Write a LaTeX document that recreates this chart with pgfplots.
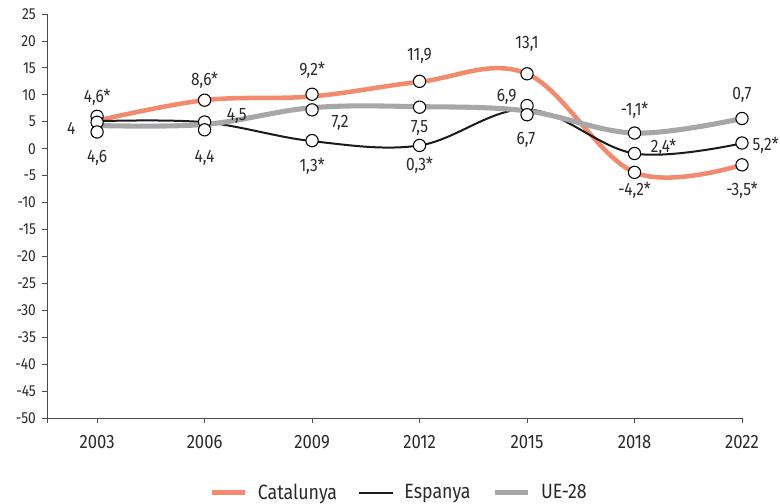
\documentclass[border=0pt]{standalone}
\usepackage{fontspec}
\setmainfont[FakeStretch=0.86]{Fira Sans}
\usepackage{pgfplots}
\pgfplotsset{compat=1.18}
\definecolor{cat}{HTML}{F28A6E}
\definecolor{esp}{HTML}{1A1A1A}
\definecolor{ue}{HTML}{A7A7A9}
\definecolor{txt}{HTML}{2A2A2A}
\begin{document}
\begin{tikzpicture}[x=0.75pt,y=0.75pt]
\begin{axis}[
  at={(0,0)}, anchor=south west,
  scale only axis, width=521.25pt, height=303pt,
  xmin=-0.466, xmax=6, ymin=-50, ymax=25,
  xtick={0,1,2,3,4,5,6},
  xticklabels={2003,2006,2009,2012,2015,2018,2022},
  extra x ticks={-0.466}, extra x tick labels={},
  ytick={-50,-45,...,25},
  axis x line*=bottom, axis y line*=left,
  axis line style={draw=black!70, line width=0.6pt},
  tick style={draw=black!70, line width=0.6pt},
  tick align=outside, major tick length=3.8pt,
  x axis line style={-}, y axis line style={-},
  /pgf/number format/assume math mode=true,
  yticklabel style={font=\fontsize{12}{14}\selectfont, text=txt, xshift=-1pt},
  xticklabel style={font=\fontsize{14.5}{16}\selectfont, text=txt, yshift=-6pt},
  clip=false,
  legend style={at={(0.506,-0.2104)}, anchor=south, draw=none, fill=none,
    inner sep=0pt, nodes={inner sep=1pt},
    legend columns=3, font=\fontsize{15.5}{17}\selectfont, text=txt,
    /tikz/every odd column/.append style={column sep=7pt},
    /tikz/every even column/.append style={column sep=15pt}},
  legend image code/.code={\draw[#1] (0pt,0pt) -- (25pt,0pt);},
]
\addplot[color=cat, line width=3.4pt, smooth, tension=0.6] coordinates {
 (0,5.2) (1,9.0) (2,9.7) (3,12.4) (4,13.9) (5,-4.4) (6,-3.0)};
\addlegendentry{Catalunya}
\addplot[color=esp, line width=1.5pt, smooth, tension=0.6] coordinates {
 (0,5.1) (1,4.9) (2,1.4) (3,0.6) (4,7.3) (5,-0.9) (6,1.0)};
\addlegendentry{Espanya}
\addplot[color=ue, line width=3.8pt, smooth, tension=0.6] coordinates {
 (0,4.3) (1,4.5) (2,7.6) (3,7.8) (4,7.0) (5,2.9) (6,5.6)};
\addlegendentry{UE-28}
\addplot[only marks, mark=*, mark size=4.6pt, mark options={fill=white, draw=black, line width=0.8pt}, forget plot] coordinates {
 (0,6.0) (0,4.9) (0,3.1)
 (1,9.0) (1,4.95) (1,3.5)
 (2,10.1) (2,7.2) (2,1.5)
 (3,12.5) (3,7.7) (3,0.6)
 (4,13.9) (4,8.0) (4,6.3)
 (5,2.9) (5,-0.9) (5,-4.4)
 (6,5.6) (6,1.05) (6,-3.0)};
\begin{scope}[every node/.style={font=\fontsize{13.5}{15}\selectfont, text=txt, inner sep=0pt}]
\node at (axis cs:0,9.55) {4,6*};
\node at (axis cs:-0.24,3.8) {4};
\node at (axis cs:0,-1.76) {4,6};
\node at (axis cs:1,12.7) {8,6*};
\node at (axis cs:1.30,6.03) {4,5};
\node at (axis cs:1,-1.76) {4,4};
\node at (axis cs:2,14.56) {9,2*};
\node at (axis cs:2.26,4.73) {7,2};
\node at (axis cs:2,-3.25) {1,3*};
\node at (axis cs:3,17.16) {11,9};
\node at (axis cs:3,3.8) {7,5};
\node at (axis cs:3,-3.06) {0,3*};
\node at (axis cs:4,19.4) {13,1};
\node at (axis cs:3.81,9.55) {6,9};
\node at (axis cs:3.99,1.58) {6,7};
\node at (axis cs:5,7.14) {-1,1*};
\node at (axis cs:5.27,0.28) {2,4*};
\node at (axis cs:5,-7.7) {-4,2*};
\node at (axis cs:6,9.9) {0,7};
\node at (axis cs:6.22,0.65) {5,2*};
\node at (axis cs:6,-7.7) {-3,5*};
\end{scope}
\end{axis}
\pgfresetboundingbox
\path (-47,-85) rectangle (733,418);
\end{tikzpicture}
\end{document}
